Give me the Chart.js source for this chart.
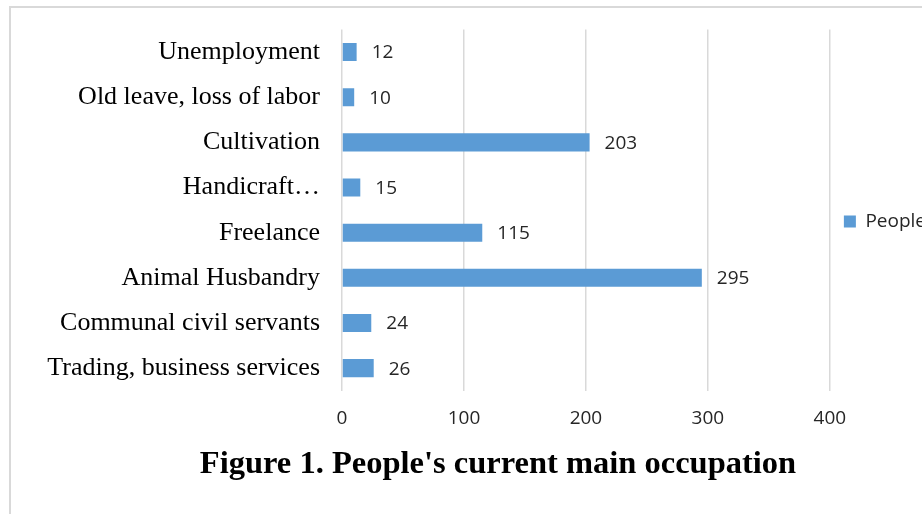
<!DOCTYPE html>
<html>
<head>
<meta charset="utf-8">
<script src="https://cdn.jsdelivr.net/npm/chart.js@4"></script>
<style>
    html, body { margin: 0; padding: 0; background: #fff; overflow: hidden; }
    #wrap { position: relative; width: 922px; height: 514px; overflow: hidden; }
    #frame { position: absolute; left: 9px; top: 6px; width: 940px; height: 540px;
             border-left: 2px solid #d9d9d9; border-top: 2px solid #d9d9d9; }
    #chartBox { position: absolute; left: 0; top: 0; width: 936px; height: 514px; }
    #title { position: absolute; left: 0; width: 996px; top: 444px; text-align: center;
             font-family: "Liberation Serif", "Times New Roman", serif; font-weight: bold; font-size: 32.5px; color: #000; }
</style>
</head>
<body>
<div id="wrap">
    <div id="frame"></div>
    <div id="chartBox"><canvas id="occChart"></canvas></div>
    <div id="title">Figure 1. People's current main occupation</div>
</div>
<script>
const occupations = ['Unemployment', 'Old leave, loss of labor', 'Cultivation', 'Handicraft…',
    'Freelance', 'Animal Husbandry', 'Communal civil servants', 'Trading, business services'];
const people = [12, 10, 203, 15, 115, 295, 24, 26];
const xTicks = [0, 100, 200, 300, 400];

// value labels to the right of each bar
const barLabels = {
    id: 'barLabels',
    afterDatasetsDraw(chart) {
        const ctx = chart.ctx;
        const meta = chart.getDatasetMeta(0);
        ctx.save();
        ctx.font = '19px "Open Sans", sans-serif';
        ctx.fillStyle = '#262626';
        ctx.textAlign = 'left';
        ctx.textBaseline = 'middle';
        meta.data.forEach((bar, i) => {
            ctx.fillText(String(people[i]), bar.x + 15, bar.y + 1);
        });
        ctx.restore();
    }
};

new Chart(document.getElementById('occChart'), {
    type: 'bar',
    data: {
        labels: occupations,
        datasets: [{
            label: 'People',
            data: people,
            backgroundColor: '#5b9bd5',
            categoryPercentage: 1,
            barPercentage: 0.4
        }]
    },
    options: {
        indexAxis: 'y',
        responsive: true,
        maintainAspectRatio: false,
        animation: false,
        layout: { padding: { left: 40, top: 29.5, right: 0, bottom: 67.5 } },
        scales: {
            x: {
                min: 0,
                max: 400,
                afterBuildTicks: (axis) => { axis.ticks = xTicks.map(v => ({ value: v })); },
                grid: { color: '#d9d9d9', lineWidth: 1.5, drawTicks: false },
                border: { display: false },
                ticks: { padding: 16.5, color: '#262626', font: { family: '"Open Sans", sans-serif', size: 19 } }
            },
            y: {
                afterFit: (axis) => { axis.width = 302; axis.paddingTop = 0; axis.paddingBottom = 0; },
                grid: { display: false, drawTicks: false },
                border: { display: false },
                ticks: { padding: 22, color: '#000', font: { family: '"Liberation Serif", serif', size: 26 } }
            }
        },
        plugins: {
            legend: {
                position: 'right',
                fullSize: false,
                title: { display: true, text: '', padding: { top: 11, bottom: 0 }, font: { size: 10 } },
                labels: {
                    boxWidth: 12, boxHeight: 12,
                    padding: 14,
                    color: '#262626',
                    font: { family: '"Open Sans", sans-serif', size: 19 }
                }
            },
            tooltip: { enabled: false }
        }
    },
    plugins: [barLabels]
});
</script>
</body>
</html>
